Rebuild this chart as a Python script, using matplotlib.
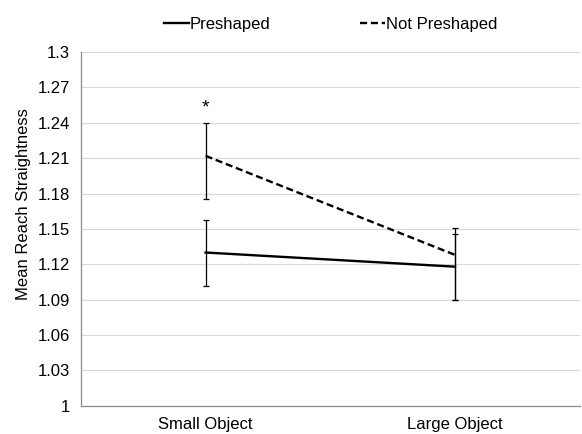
import matplotlib.pyplot as plt

plt.rcParams['font.family'] = ['Liberation Sans', 'DejaVu Sans']

categories = ['Small Object', 'Large Object']
preshaped = [1.130, 1.118]
preshaped_err = [0.028, 0.028]
not_preshaped = [1.212, 1.128]
not_preshaped_err_low = [0.037, 0.038]
not_preshaped_err_high = [0.028, 0.023]
yticks = [1.0, 1.03, 1.06, 1.09, 1.12, 1.15, 1.18, 1.21, 1.24, 1.27, 1.3]
ytick_labels = ['1', '1.03', '1.06', '1.09', '1.12', '1.15', '1.18', '1.21', '1.24', '1.27', '1.3']

fig = plt.figure(figsize=(5.82, 4.34), dpi=100)
ax = fig.add_axes([0.139, 0.065, 0.857, 0.815])

x = list(range(len(categories)))

ax.errorbar(x, preshaped, yerr=preshaped_err, color='black', linestyle='-',
            linewidth=1.7, ecolor='black', elinewidth=0.9, capsize=2.5,
            capthick=0.9, label='Preshaped', zorder=3)
ax.errorbar(x, not_preshaped, yerr=[not_preshaped_err_low, not_preshaped_err_high],
            color='black', linestyle=(0, (3, 1.6)), linewidth=1.7, ecolor='black',
            elinewidth=0.9, capsize=2.5, capthick=0.9, label='Not Preshaped', zorder=3)

# significance marker
ax.text(0, not_preshaped[0] + not_preshaped_err_high[0] + 0.005, '*',
        ha='center', va='bottom', fontsize=14)

ax.set_xlim(-0.5, 1.5)
ax.set_ylim(1.0, 1.3)
ax.set_xticks(x)
ax.set_xticklabels(categories, fontsize=12)
ax.set_yticks(yticks)
ax.set_yticklabels(ytick_labels, fontsize=12)
ax.set_ylabel('Mean Reach Straightness', fontsize=12)
ax.yaxis.set_label_coords(-0.1, 0.57)
ax.tick_params(length=0, pad=8)

ax.grid(axis='y', color='#d9d9d9', linewidth=0.8)
ax.set_axisbelow(True)
for s in ['top', 'right']:
    ax.spines[s].set_visible(False)
for s in ['left', 'bottom']:
    ax.spines[s].set_color('#8c8c8c')
    ax.spines[s].set_linewidth(0.9)

handles = [plt.Line2D([], [], color='black', linewidth=1.7),
           plt.Line2D([], [], color='black', linewidth=1.7, linestyle=(0, (3, 1.6)))]
fig.legend(handles, ['Preshaped', 'Not Preshaped'], loc='upper center',
           bbox_to_anchor=(0.568, 0.995), ncol=2, frameon=False, fontsize=12,
           handlelength=1.5, handletextpad=0.05, columnspacing=5.4)

fig.savefig('out.png', dpi=100)
